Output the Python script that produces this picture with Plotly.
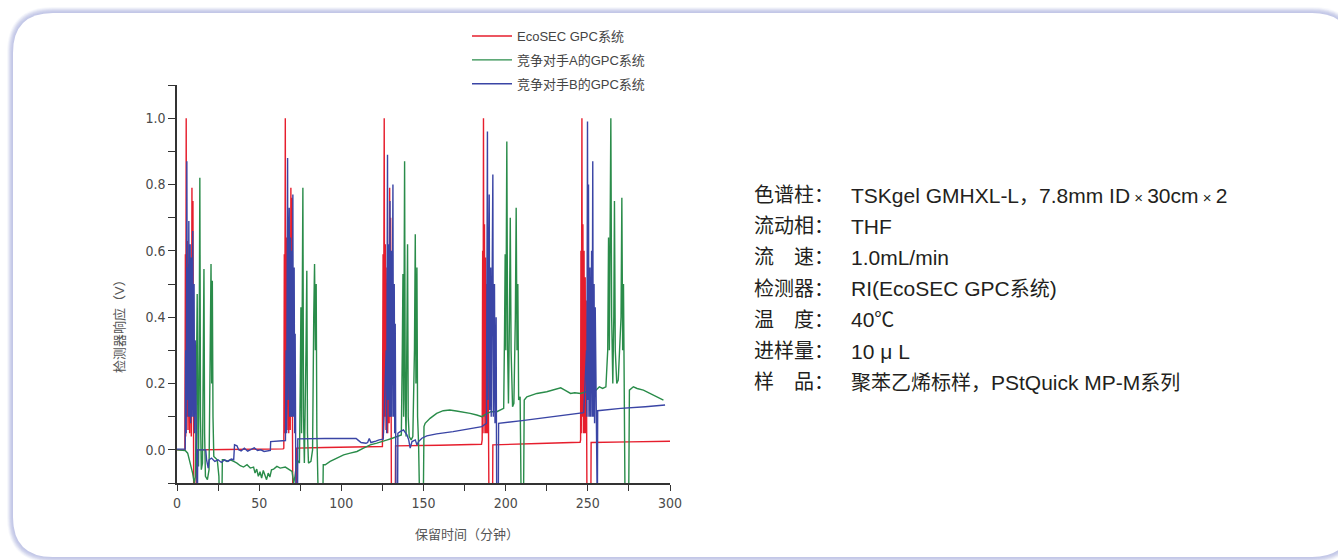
import plotly.graph_objects as go

# ---------------- data ----------------
series_names = ["EcoSEC GPC系统", "竞争对手A的GPC系统", "竞争对手B的GPC系统"]

red_t = [0, 4.8, 5.1, 5.3, 5.6, 5.9, 6.3, 6.7, 7.2, 7.7, 8.3, 8.7, 9.1, 9.4, 9.7, 10.0, 10.2, 11.6, 11.8, 30, 50, 64.6,
         65.0, 65.3, 65.5, 65.9, 66.2, 66.6, 67.0, 67.6, 68.0, 68.5, 68.9, 69.3, 69.6, 70.0, 70.3, 70.5, 72.6, 72.8, 90, 110, 125.0,
         125.4, 125.6, 126.1, 126.4, 126.8, 127.2, 127.8, 128.2, 128.8, 129.1, 129.4, 129.7, 130.0, 130.3, 130.5, 132.8, 133.0, 160, 185.3,
         185.7, 186.0, 186.2, 186.5, 186.8, 187.1, 187.4, 187.8, 188.1, 188.5, 188.8, 189.2, 189.6, 189.9, 192.0, 192.2, 220, 245.3,
         245.6, 245.8, 246.0, 246.4, 246.7, 247.0, 247.3, 247.7, 248.0, 248.4, 248.7, 249.0, 249.3, 249.5, 251.8, 252.0, 275, 300]
red_v = [0.0, 0.0, 0.59, 0.04, 1.0, 0.1, 0.63, 0.06, 0.56, 0.05, 0.48, 0.04, 0.79, 0.12, 0.75, 0.03, -0.2, -0.2, 0.0, 0.001, 0.002, 0.003,
         0.005, 0.59, 0.05, 1.0, 0.1, 0.64, 0.06, 0.58, 0.05, 0.52, 0.06, 0.79, 0.1, 0.76, 0.03, -0.2, -0.2, 0.005, 0.007, 0.009, 0.01,
         0.59, 0.05, 1.0, 0.1, 0.62, 0.06, 0.55, 0.05, 0.5, 0.08, 0.79, 0.1, 0.7, 0.03, -0.2, -0.2, 0.012, 0.014, 0.017,
         0.03, 0.6, 0.05, 1.0, 0.1, 0.68, 0.05, 0.58, 0.05, 0.5, 0.05, 0.45, 0.03, -0.2, -0.2, 0.015, 0.019, 0.023,
         0.03, 0.6, 0.05, 1.0, 0.1, 0.68, 0.05, 0.6, 0.05, 0.52, 0.05, 0.45, 0.03, -0.2, -0.2, 0.022, 0.024, 0.026]

green_t = [0, 5.0, 6.5, 7.5, 8.5, 9.5, 10.5, 11.2, 11.6, 12.3, 12.7, 13.1, 13.5, 13.9, 14.3, 14.8, 15.5, 16.0, 16.4, 16.8,
           17.3, 18.5, 19.5, 20.2, 20.7, 21.1, 21.5, 21.9, 22.4, 24.5, 25.5, 26.0, 27.2, 27.6,
           28.4, 30.4, 32.4, 34.5, 36.5, 38.5, 40.5, 42.6, 44.6, 46.6, 47.5, 48.5, 49.5, 50.5, 51.5, 52.5, 53.5, 54.5, 55.5,
           56.5, 57.5, 58.8, 60.8, 62.8, 65.9,
           68, 70.0, 71.0, 71.8, 73.0, 74.5, 75.0, 75.4, 75.8, 76.2, 76.6, 77.0, 77.5, 78.5, 79.0, 79.4, 80.0, 81.5, 82.5,
           83.2, 83.7, 84.2, 84.7, 85.1, 85.8, 86.2, 88.6, 89.0,
           90.2, 93.2, 97.3, 101.4, 105.4, 109.5, 113.5, 117.6, 121.6, 125.7,
           128, 131, 134, 136.5, 137.1, 137.5, 137.9, 138.2, 138.5, 138.9, 139.4, 139.9, 140.3, 140.7, 141.3, 142.5, 143.5,
           144.5, 145.0, 145.4, 146.0, 146.4, 147.0, 147.8, 149.8, 150.3,
           151, 154, 158, 162, 166, 170, 174, 178.4, 182.4, 185.5,
           188, 191, 194.6, 197, 198.8, 199.3, 199.7, 200.1, 200.7, 201.2, 201.7, 202.3, 202.8, 203.3, 204.2, 205.0, 205.9,
           206.4, 206.9, 207.4, 207.9, 208.8, 209.5, 210.8, 211.3,
           212.9, 219, 225, 229, 233.5, 236, 239.5, 242, 245.6,
           249, 252, 255, 257, 259, 261, 262.1, 262.6, 263.1, 263.6, 264.0, 264.5, 265.2, 265.8, 266.2, 266.7, 267.6, 268.5,
           270.2, 270.7, 271.2, 271.7, 272.2, 272.7, 274.8, 275.3,
           277.7, 280, 283.8, 287, 290, 293, 296]
green_v = [0.0, -0.002, -0.01, -0.03, -0.05, -0.07, -0.1, -0.08, 0.1, 0.47, 0.05, -0.05, 0.3, 0.82, 0.1, -0.06, -0.04, 0.3, 0.545, 0.05,
           -0.08, -0.09, -0.06, 0.3, 0.56, 0.2, 0.51, 0.1, -0.02, -0.03, -0.08, -0.2, -0.2, -0.03,
           -0.03, -0.035, -0.03, -0.035, -0.04, -0.048, -0.052, -0.045, -0.055, -0.052, -0.07, -0.058, -0.08, -0.066, -0.085, -0.062, -0.078, -0.09, -0.07,
           -0.082, -0.06, -0.058, -0.05, -0.055, -0.052,
           -0.06, -0.065, -0.1, -0.08, -0.03, -0.04, 0.2, 0.43, 0.05, 0.4, 0.79, 0.1, -0.04, 0.3, 0.54, 0.05, -0.04, -0.035, 0.0,
           0.4, 0.56, 0.3, 0.5, 0.05, -0.05, -0.2, -0.2, -0.045,
           -0.045, -0.035, -0.025, -0.015, -0.01, -0.005, 0.005, 0.015, 0.02, 0.025,
           0.03, 0.035, 0.04, 0.045, 0.3, 0.53, 0.1, 0.5, 0.87, 0.15, 0.04, 0.35, 0.62, 0.1, 0.04, 0.03, 0.04,
           0.3, 0.65, 0.2, 0.55, 0.1, 0.02, -0.2, -0.2, 0.07,
           0.08, 0.095, 0.11, 0.118, 0.12, 0.117, 0.114, 0.11, 0.105, 0.1,
           0.108, 0.115, 0.115, 0.12, 0.125, 0.35, 0.59, 0.3, 0.93, 0.3, 0.14, 0.4, 0.7, 0.3, 0.13, 0.14, 0.4,
           0.73, 0.3, 0.5, 0.15, 0.16, -0.2, -0.2, 0.15,
           0.16, 0.17, 0.175, 0.18, 0.187, 0.18, 0.17, 0.172, 0.17,
           0.175, 0.172, 0.18, 0.19, 0.185, 0.19, 0.3, 0.64, 0.3, 0.6, 1.0, 0.4, 0.2, 0.4, 0.75, 0.3, 0.2, 0.21,
           0.4, 0.76, 0.3, 0.5, 0.1, -0.2, -0.2, 0.18,
           0.19, 0.185, 0.18, 0.172, 0.165, 0.158, 0.15]

blue_t = [0, 5.0, 5.3, 5.6, 6.0, 6.3, 6.6, 6.9, 7.2, 7.5, 8.0, 8.3, 8.7, 9.0, 9.6, 9.9, 10.4, 10.7, 11.1, 11.4, 11.6, 12.4, 12.6,
          17.5, 18.0, 19.0, 19.5, 21, 23, 25, 27, 29, 31, 33, 34.5, 35.0, 36.5, 37.5, 39, 41, 43, 45, 47, 49, 51, 53, 55, 56.8,
          57.0, 62, 66.0,
          66.4, 66.7, 67.3, 67.6, 68.0, 68.3, 68.6, 69.1, 69.4, 69.9, 70.2, 70.5, 70.8, 71.3, 71.6, 71.9, 72.2, 72.4, 73.3, 73.5,
          90, 100, 109, 110, 112, 115, 116, 117, 118, 121, 123, 125.5,
          127.3, 127.6, 128.1, 128.4, 128.9, 129.2, 129.6, 129.9, 130.4, 130.7, 131.4, 131.7, 132.2, 132.5, 132.8, 133.1, 133.3,
          134.2, 134.4, 135.8, 137.8, 139.9, 141.0, 141.9, 143.0, 145.0, 146.0, 147.0, 149.0, 152, 158, 168, 178.4, 185.5,
          188.3, 188.5, 188.7, 188.9, 189.2, 189.6, 190.0, 190.3, 190.9, 191.2, 191.8, 192.2, 192.5, 193.2, 193.5, 194.2, 194.4,
          194.6, 195.5, 195.7, 210, 225, 235, 247.5,
          249.2, 249.4, 249.8, 250.1, 250.4, 250.7, 251.3, 251.6, 252.3, 252.6, 253.0, 253.3, 253.8, 254.1, 254.5, 254.8, 255.0,
          255.8, 256.0, 270, 285, 297]
blue_v = [0.002, 0.002, 0.3, 0.05, 0.87, 0.15, 0.55, 0.1, 0.69, 0.1, 0.62, 0.08, 0.58, 0.1, 0.66, 0.1, 0.5, 0.05, 0.33, 0.02, -0.2, -0.2, 0.0,
          0.0, -0.03, -0.055, -0.03, -0.025, -0.035, -0.03, -0.038, -0.03, -0.035, -0.028, -0.03, 0.015, 0.012, 0.0, -0.003, 0.005, -0.004,
          0.002, 0.006, -0.002, 0.0, -0.005, -0.003, -0.002,
          0.025, 0.026, 0.028,
          0.3, 0.05, 0.88, 0.15, 0.6, 0.73, 0.1, 0.64, 0.1, 0.6, 0.1, 0.77, 0.1, 0.55, 0.05, 0.35, 0.02, -0.2, -0.2, 0.033,
          0.034, 0.035, 0.034, 0.03, 0.022, 0.02, 0.022, 0.034, 0.022, 0.026, 0.03, 0.032,
          0.3, 0.05, 0.89, 0.15, 0.62, 0.1, 0.75, 0.1, 0.6, 0.1, 0.8, 0.1, 0.5, 0.05, 0.38, 0.02, -0.2,
          -0.2, 0.05, 0.055, 0.06, 0.045, 0.03, 0.005, 0.025, 0.03, 0.015, 0.025, 0.035, 0.042, 0.048, 0.055, 0.065, 0.07,
          0.08, 0.35, 0.1, 0.96, 0.15, 0.6, 0.77, 0.12, 0.55, 0.1, 0.5, 0.83, 0.1, 0.5, 0.08, 0.4, 0.05,
          -0.2, -0.2, 0.08, 0.088, 0.097, 0.105, 0.112,
          0.3, 0.1, 0.99, 0.15, 0.8, 0.1, 0.55, 0.1, 0.6, 0.1, 0.87, 0.1, 0.5, 0.08, 0.43, 0.05, -0.2,
          -0.2, 0.118, 0.125, 0.13, 0.135]

assert len(red_t) == len(red_v) and len(green_t) == len(green_v) and len(blue_t) == len(blue_v)

x_tick_vals = [0, 50, 100, 150, 200, 250, 300]
y_tick_vals = [0.0, 0.2, 0.4, 0.6, 0.8, 1.0]

CJ = "<span style='font-size:20px'>{}</span>"
SM = "<span style='font-size:15px'>{}</span>"
info_labels = ["色谱柱：", "流动相：", "流　速：", "检测器：", "温　度：", "进样量：", "样　品："]
info_values = ["TSKgel GMHXL-L" + CJ.format("，") + "7.8mm ID" + SM.format(" × ") + "30cm" + SM.format(" × ") + "2",
               "THF", "1.0mL/min",
               "RI(EcoSEC GPC" + CJ.format("系统") + ")",
               "40" + CJ.format("℃"), "10 μ L",
               CJ.format("聚苯乙烯标样，") + "PStQuick MP-M" + CJ.format("系列")]

colors = ["#e61e2d", "#2a8c4a", "#3a45a5"]

# ---------------- layout geometry ----------------
W, H = 1338, 560
ML, MR, MT, MB = 177, 668, 85, 77
PW, PH = W - ML - MR, H - MT - MB


def px(x):
    return (x - ML) / PW


def py(y):
    return (H - MB - y) / PH


def rounded_rect(x0, y0, x1, y1, r):
    pts = [
        f"M{px(x0 + r)},{py(y0)}",
        f"L{px(x1 - r)},{py(y0)}",
        f"Q{px(x1)},{py(y0)} {px(x1)},{py(y0 + r)}",
        f"L{px(x1)},{py(y1 - r)}",
        f"Q{px(x1)},{py(y1)} {px(x1 - r)},{py(y1)}",
        f"L{px(x0 + r)},{py(y1)}",
        f"Q{px(x0)},{py(y1)} {px(x0)},{py(y1 - r)}",
        f"L{px(x0)},{py(y0 + r)}",
        f"Q{px(x0)},{py(y0)} {px(x0 + r)},{py(y0)}",
        "Z",
    ]
    return " ".join(pts)


fig = go.Figure()
for name, t, v, c in zip(series_names, [red_t, green_t, blue_t], [red_v, green_v, blue_v], colors):
    fig.add_trace(go.Scatter(x=t, y=v, mode="lines", name=name, legendgroup=name,
                             line=dict(color=c, width=1.4), hoverinfo="skip"))

shapes = []
# soft lavender shadow around the card
for i, a in enumerate([0.12, 0.2, 0.3, 0.42, 0.55, 0.65]):
    off = 6 - i
    shapes.append(dict(type="path", xref="paper", yref="paper", layer="below",
                       path=rounded_rect(13 - off, 13 - off, 1352 + off, 557 + off, 40 + off),
                       fillcolor=f"rgba(192,197,230,{a})", line=dict(width=0)))
shapes.append(dict(type="path", xref="paper", yref="paper", layer="below",
                   path=rounded_rect(13, 13, 1352, 557, 40),
                   fillcolor="white", line=dict(width=0)))

tick_font = dict(family="Liberation Sans Narrow, DejaVu Sans Condensed, Arial Narrow, sans-serif", size=14, color="#4a4a4a")
cjk = "Liberation Sans, Noto Sans CJK SC, sans-serif"

annotations = [
    dict(text="检测器响应（V）", xref="paper", yref="paper", x=px(119), y=py(323), textangle=-90,
         showarrow=False, font=dict(family=cjk, size=13, color="#555"), xanchor="center", yanchor="middle"),
    dict(text="保留时间（分钟）", xref="paper", yref="paper", x=px(467), y=py(534),
         showarrow=False, font=dict(family=cjk, size=13, color="#555"), xanchor="center", yanchor="middle"),
]
for i, (lab, val) in enumerate(zip(info_labels, info_values)):
    yy = 195 + i * 31.2
    annotations.append(dict(text=lab, xref="paper", yref="paper", x=px(752), y=py(yy), showarrow=False,
                            xanchor="left", yanchor="middle", font=dict(family=cjk, size=20, color="#231f20")))
    annotations.append(dict(text=val, xref="paper", yref="paper", x=px(849), y=py(yy), showarrow=False,
                            xanchor="left", yanchor="middle", font=dict(family=cjk, size=21, color="#231f20")))

fig.update_layout(
    width=W, height=H, autosize=False,
    margin=dict(l=ML, r=MR, t=MT, b=MB, pad=0),
    paper_bgcolor="white", plot_bgcolor="rgba(0,0,0,0)",
    shapes=shapes, annotations=annotations,
    showlegend=True,
    legend=dict(x=px(467), y=py(21), xanchor="left", yanchor="top", bgcolor="rgba(0,0,0,0)",
                font=dict(family=cjk, size=13, color="#444"), tracegroupgap=4, itemwidth=40,
                traceorder="grouped"),
    xaxis=dict(range=[0, 300], tickvals=x_tick_vals, showgrid=False, zeroline=False, showline=True,
               linecolor="#333", linewidth=1.5, ticks="outside", ticklen=6, tickwidth=1.3, tickcolor="#333",
               tickfont=tick_font, minor=dict(dtick=25, tick0=0, ticks="outside", ticklen=6, tickcolor="#333", tickwidth=1.3)),
    yaxis=dict(range=[-0.1, 1.1], tickvals=y_tick_vals, tickformat=".1f", showgrid=False, zeroline=False, showline=True,
               linecolor="#333", linewidth=1.5, ticks="outside", ticklen=7, tickwidth=1.3, tickcolor="#333",
               tickfont=tick_font, minor=dict(dtick=0.1, tick0=0, ticks="outside", ticklen=7, tickcolor="#333", tickwidth=1.3)),
)

fig.write_html("out.html")
